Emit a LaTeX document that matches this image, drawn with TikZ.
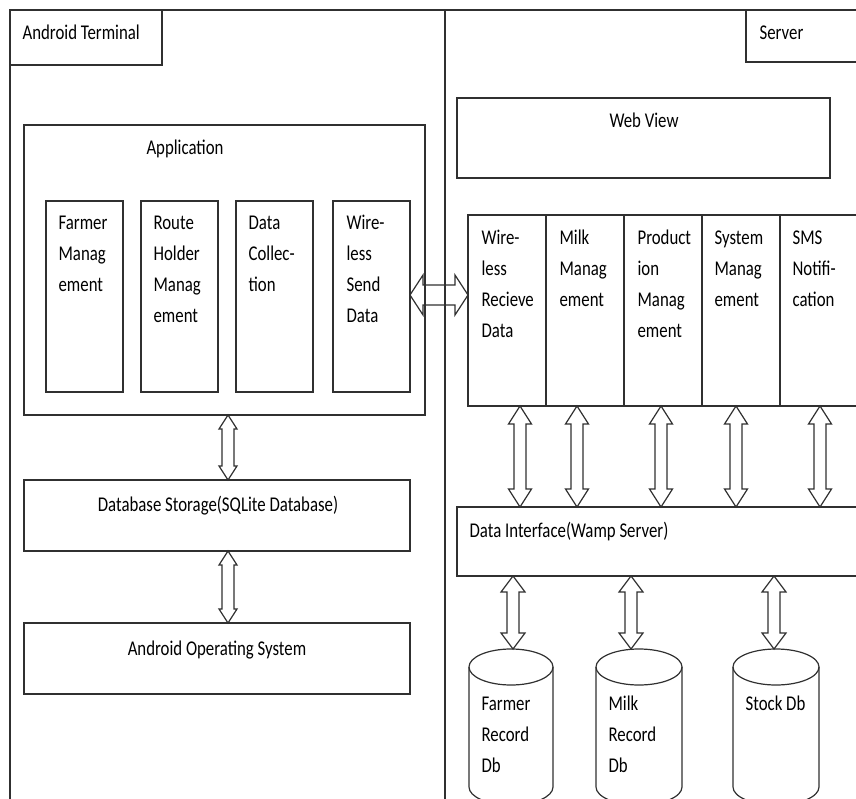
\documentclass[tikz,border=0pt]{standalone}
\usepackage{fontspec}
\setmainfont{Carlito}[FakeStretch=0.8]
\usetikzlibrary{calc}
\newcommand\mylines[1]{\vtop{\halign{##\hfil\cr#1\crcr}}}
\definecolor{lc}{HTML}{303030}
\begin{document}
\begin{tikzpicture}[x=1pt,y=-1pt,line width=1.2pt,
  box/.style={draw=lc,inner sep=0pt,outer sep=0pt,anchor=north west},
  ghost/.style={inner sep=0pt,outer sep=0pt,anchor=north west},
  txt/.style={inner sep=0pt,font=\fontsize{21}{31}\selectfont,text=black},
  dv/.style n args={3}{draw=lc,to path={let \p1=(\tikztostart),\p2=(\tikztotarget) in
     (\x1,\y1) -- (\x1+#1,\y1-#3) -- (\x1+#2,\y1-#3) -- (\x1+#2,\y2+#3) -- (\x1+#1,\y2+#3)
     -- (\x1,\y2) -- (\x1-#1,\y2+#3) -- (\x1-#2,\y2+#3) -- (\x1-#2,\y1-#3) -- (\x1-#1,\y1-#3) -- cycle}},
  dh/.style n args={3}{draw=lc,to path={let \p1=(\tikztostart),\p2=(\tikztotarget) in
     (\x1,\y1) -- (\x1+#3,\y1+#1) -- (\x1+#3,\y1+#2) -- (\x2-#3,\y1+#2) -- (\x2-#3,\y1+#1)
     -- (\x2,\y1) -- (\x2-#3,\y1-#1) -- (\x2-#3,\y1-#2) -- (\x1+#3,\y1-#2) -- (\x1+#3,\y1-#1) -- cycle}}
]
\useasboundingbox (0,0) rectangle (856,799);
\clip (0,0) rectangle (856,799);

% outer frames
\draw[lc] (10,840) |- (880,10);
\draw[lc] (445,10) -- (445,840);
\node[box,minimum width=152pt,minimum height=55pt] (atbox) at (10,10) {};
\node[txt,anchor=base west] (attxt) at (22,40) {Android Terminal};
\node[box,minimum width=130pt,minimum height=52pt] (svbox) at (746,10) {};
\node[txt,anchor=base west] (svtxt) at (759,40) {Server};

% Android side
\node[box,minimum width=401pt,minimum height=290pt] (app) at (24,125) {};
\node[txt,anchor=base] (apptxt) at (185,155) {Application};
\node[box,minimum width=77pt,minimum height=191pt] (c1) at (46,201) {};
\node[box,minimum width=77pt,minimum height=191pt] (c2) at (141,201) {};
\node[box,minimum width=77pt,minimum height=191pt] (c3) at (236,201) {};
\node[box,minimum width=77pt,minimum height=191pt] (ws) at (333,201) {};
\node[txt,anchor=base west] (c1t) at (58,230) {\mylines{Farmer\cr Manag\cr ement}};
\node[txt,anchor=base west] (c2t) at (153,230) {\mylines{Route\cr Holder\cr Manag\cr ement}};
\node[txt,anchor=base west] (c3t) at (248,230) {\mylines{Data\cr Collec-\cr tion}};
\node[txt,anchor=base west] (wst) at (346,230) {\mylines{Wire-\cr less\cr Send\cr Data}};

\node[box,minimum width=386pt,minimum height=71pt] (db) at (24,480) {};
\node[txt,anchor=base] (dbt) at (218,511) {Database Storage(SQLite Database)};
\node[box,minimum width=386pt,minimum height=71pt] (os) at (24,623) {};
\node[txt,anchor=base] (ost) at (217,655) {Android Operating System};

\draw[dv={9pt}{6pt}{14pt}] (app.south -| 228,0) to (db.north -| 228,0);
\draw[dv={9pt}{6pt}{14pt}] (db.south -| 228,0) to (os.north -| 228,0);

% Server side
\node[box,minimum width=373pt,minimum height=80pt] (web) at (457,98) {};
\node[txt,anchor=base] (webt) at (644,128) {Web View};

\node[box,minimum width=78pt,minimum height=191pt] (wr) at (468,215) {};
\node[box,minimum width=78pt,minimum height=191pt] (m2) at (546,215) {};
\node[box,minimum width=78pt,minimum height=191pt] (m3) at (624,215) {};
\node[box,minimum width=78pt,minimum height=191pt] (m4) at (702,215) {};
\node[box,minimum width=78pt,minimum height=191pt] (m5) at (780,215) {};
\node[txt,anchor=base west] (wrt) at (481,245) {\mylines{Wire-\cr less\cr Recieve\cr Data}};
\node[txt,anchor=base west] (m2t) at (559,245) {\mylines{Milk\cr Manag\cr ement}};
\node[txt,anchor=base west] (m3t) at (637,245) {\mylines{Product\cr ion\cr Manag\cr ement}};
\node[txt,anchor=base west] (m4t) at (714,245) {\mylines{System\cr Manag\cr ement}};
\node[txt,anchor=base west] (m5t) at (792,245) {\mylines{SMS\cr Notifi-\cr cation}};

\draw[dh={20pt}{10pt}{13pt}] (ws.east |- 0,295) to (wr.west |- 0,295);

\node[box,minimum width=430pt,minimum height=69pt] (di) at (457,507) {};
\node[txt,anchor=base west] (dit) at (469,537) {Data Interface(Wamp Server)};

\foreach \mm/\ax in {wr/520,m2/577,m3/661,m4/736,m5/820}{
  \draw[dv={11.5pt}{6pt}{18pt}] (\mm.south -| \ax,0) to (di.north -| \ax,0);
}

% cylinders
\node[ghost,minimum width=84pt,minimum height=150pt] (fdb) at (469,649) {};
\node[ghost,minimum width=86pt,minimum height=150pt] (mdb) at (596,649) {};
\node[ghost,minimum width=86pt,minimum height=150pt] (sdb) at (733,649) {};
\foreach \cc/\cx/\rr in {fdb/511/42,mdb/639/43,sdb/776/43}{
  \draw[lc] (\cx,667) ellipse [x radius=\rr, y radius=18];
  \draw[lc] (\cx-\rr,667) -- (\cx-\rr,787) arc[start angle=180,end angle=0,x radius=\rr,y radius=18] -- (\cx+\rr,667);
}
\node[txt,anchor=base west] (fdbt) at (481,710) {\mylines{Farmer\cr Record\cr Db}};
\node[txt,anchor=base west] (mdbt) at (608,710) {\mylines{Milk\cr Record\cr Db}};
\node[txt,anchor=base west] (sdbt) at (745,710) {Stock Db};

\draw[dv={12pt}{6pt}{16pt}] (di.south -| 513,0) to (fdb.north -| 513,0);
\draw[dv={12pt}{6pt}{16pt}] (di.south -| 631,0) to (mdb.north -| 631,0);
\draw[dv={12pt}{6pt}{16pt}] (di.south -| 774,0) to (sdb.north -| 774,0);
\end{tikzpicture}
\end{document}
